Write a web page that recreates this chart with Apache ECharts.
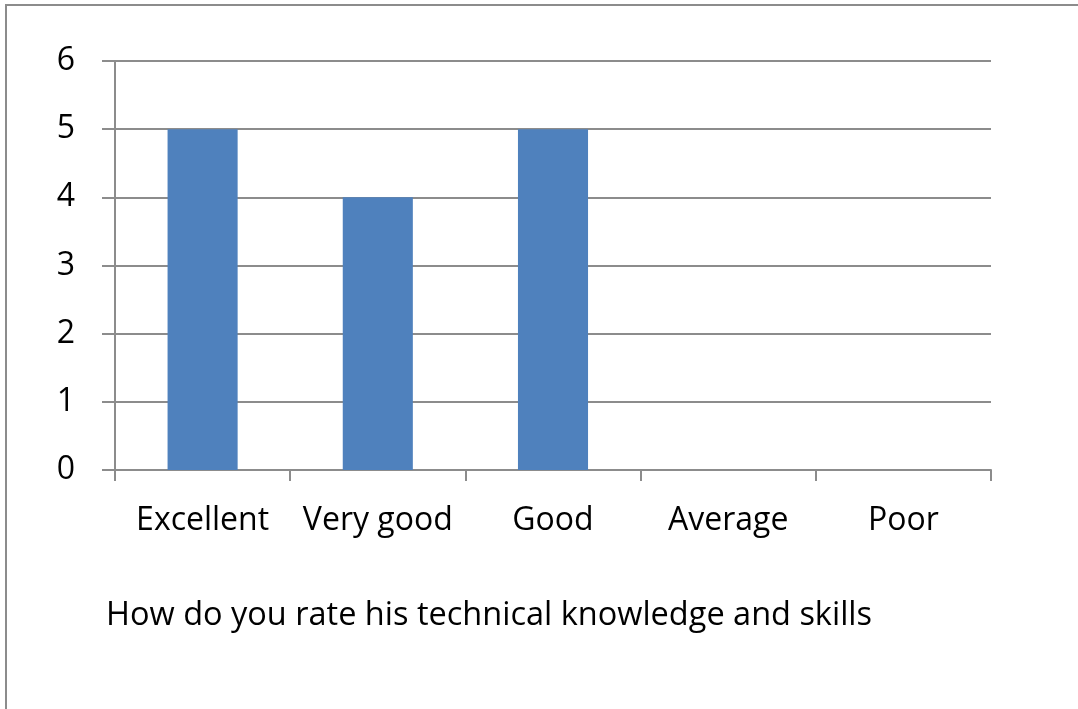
<!DOCTYPE html>
<html>
<head>
<meta charset="utf-8">
<script src="https://cdn.jsdelivr.net/npm/echarts@6/dist/echarts.min.js"></script>
<style>
  html, body { margin: 0; padding: 0; background: #fff; }
  #chart { width: 1078px; height: 709px; }
</style>
</head>
<body>
<div id="chart"></div>
<script>
const categories = ["Excellent", "Very good", "Good", "Average", "Poor"];
const ratings = [5, 4, 5, 0, 0];
const chartTitle = "How do you rate his technical knowledge and skills";

const font = "'Open Sans', 'Noto Sans', sans-serif";
const lineColor = "#8c8c8c";

const chart = echarts.init(document.getElementById("chart"));
chart.setOption({
  animation: false,
  backgroundColor: "#fff",
  graphic: [
    {
      type: "polyline",
      shape: { points: [[6, 709], [6, 5], [1078, 5]] },
      style: { stroke: lineColor, lineWidth: 2, fill: null },
    },
    {
      type: "text",
      x: 106,
      y: 616,
      style: {
        text: chartTitle,
        fontSize: 32.5,
        fontFamily: font,
        fill: "#000",
        verticalAlign: "middle",
      },
    },
  ],
  grid: {
    left: 115,
    right: 87,
    top: 61,
    bottom: 239,
  },
  xAxis: {
    type: "category",
    data: categories,
    axisLine: { lineStyle: { color: lineColor, width: 2 } },
    axisTick: { show: true, interval: 0, length: 11, lineStyle: { color: lineColor, width: 2 } },
    axisLabel: { interval: 0, color: "#000", fontSize: 32, fontFamily: font, margin: 35 },
  },
  yAxis: {
    type: "value",
    min: 0,
    max: 6,
    interval: 1,
    axisLine: { show: true, lineStyle: { color: lineColor, width: 2 } },
    axisTick: { show: true, length: 13, lineStyle: { color: lineColor, width: 2 } },
    axisLabel: { color: "#000", fontSize: 32, fontFamily: font, margin: 40 },
    splitLine: { lineStyle: { color: lineColor, width: 2 } },
  },
  series: [
    {
      type: "bar",
      data: ratings,
      barWidth: "40%",
      itemStyle: { color: "#4f81bd" },
    },
  ],
});
</script>
</body>
</html>
